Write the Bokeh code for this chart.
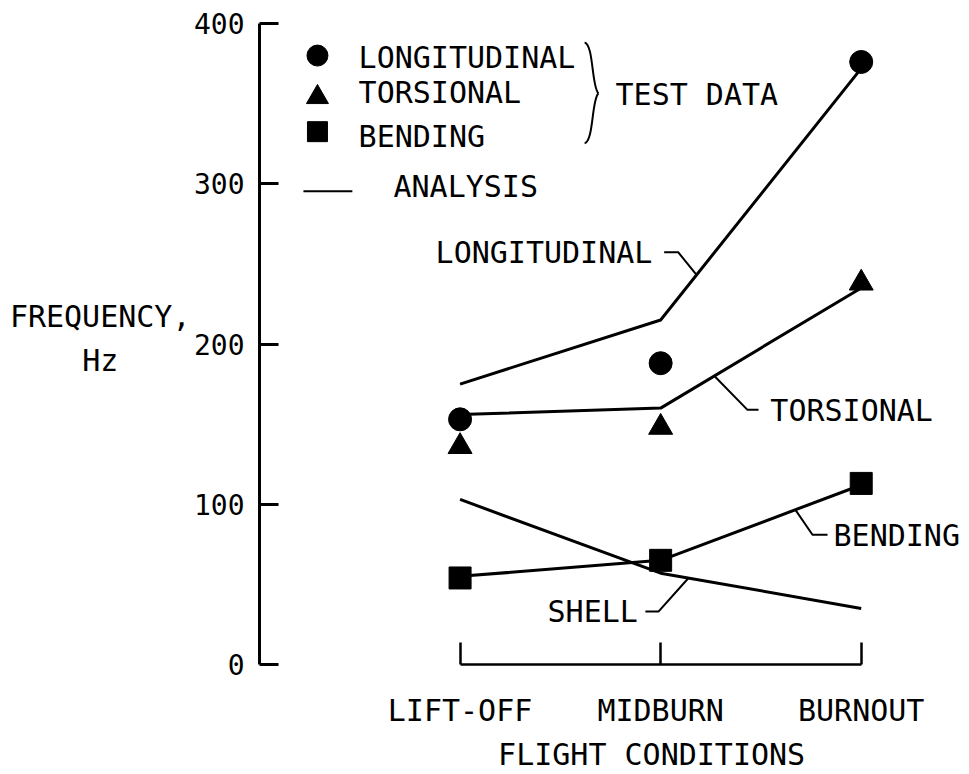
from bokeh.plotting import figure
from bokeh.models import Range1d, FixedTicker, Label, LinearAxis
from bokeh.embed import file_html
from bokeh.resources import INLINE

# ---------------- data ----------------
conditions = ["LIFT-OFF", "MIDBURN", "BURNOUT"]
y_ticks = [0, 100, 200, 300, 400]

test_longitudinal = [153, 188, 376]
test_torsional = [136, 148, 238]
test_bending = [54, 65, 113]

analysis_longitudinal = [175, 215, 372]
analysis_torsional = [156, 160, 235]
analysis_bending = [55, 65, 112]
analysis_shell = [103, 57, 35]

x_title = "FLIGHT CONDITIONS"
y_title = ["FREQUENCY,", "Hz"]

FONT = "DejaVu Sans Mono"
INK = "black"
NB = "\u00a0"
x = list(range(len(conditions)))

p = figure(width=969, height=774,
           x_range=Range1d(-1, 2.5), y_range=Range1d(0, 400),
           output_backend="svg", toolbar_location=None,
           min_border_left=259, min_border_right=8,
           min_border_top=23, min_border_bottom=109)
p.outline_line_color = None
p.grid.visible = False
p.background_fill_color = "white"
p.border_fill_color = "white"

# y axis
ya = p.yaxis[0]
ya.ticker = FixedTicker(ticks=y_ticks)
ya.bounds = (y_ticks[0], y_ticks[-1])
ya.axis_line_width = 3
ya.axis_line_color = INK
ya.major_tick_line_width = 3
ya.major_tick_line_color = INK
ya.major_tick_in = 19
ya.major_tick_out = 0
ya.minor_tick_line_color = None
ya.major_label_text_font = FONT
ya.major_label_text_font_size = "28px"
ya.major_label_text_color = INK
ya.major_label_standoff = 15

# y title as a second (line-less) axis, horizontal text
yt = LinearAxis(ticker=FixedTicker(ticks=[217, 190]),
                major_label_overrides={217: y_title[0], 190: y_title[1] + NB * 4})
yt.axis_line_color = None
yt.major_tick_line_color = None
yt.minor_tick_line_color = None
yt.major_tick_in = 0
yt.major_tick_out = 0
yt.major_label_standoff = 0
yt.major_label_text_font = FONT
yt.major_label_text_font_size = "30px"
yt.major_label_text_color = INK
p.add_layout(yt, "left")

# x axis
xa = p.xaxis[0]
xa.ticker = FixedTicker(ticks=x)
xa.major_label_overrides = {i: c for i, c in zip(x, conditions)}
xa.bounds = (x[0], x[-1])
xa.axis_line_width = 2.5
xa.axis_line_color = INK
xa.major_tick_line_width = 2.5
xa.major_tick_line_color = INK
xa.major_tick_in = 22
xa.major_tick_out = 0
xa.minor_tick_line_color = None
xa.major_label_text_font = FONT
xa.major_label_text_font_size = "30px"
xa.major_label_text_color = INK
xa.major_label_standoff = 28

# x title as a second (line-less) axis
xt = LinearAxis(ticker=FixedTicker(ticks=[1]),
                major_label_overrides={1: x_title + NB})
xt.axis_line_color = None
xt.major_tick_line_color = None
xt.minor_tick_line_color = None
xt.major_tick_in = 0
xt.major_tick_out = 0
xt.major_label_standoff = 6
xt.major_label_text_font = FONT
xt.major_label_text_font_size = "30px"
xt.major_label_text_color = INK
p.add_layout(xt, "below")

# analysis lines
for series in (analysis_longitudinal, analysis_torsional, analysis_bending, analysis_shell):
    p.line(x, series, line_color=INK, line_width=3)

# test data markers
p.scatter(x, test_longitudinal, marker="circle", size=23, color=INK)
p.scatter(x, test_torsional, marker="triangle", size=24, color=INK)
p.scatter(x, test_bending, marker="square", size=22, color=INK)

# ---------------- legend (drawn by hand) ----------------
p.scatter([-0.711], [380], marker="circle", size=21, color=INK)
p.scatter([-0.711], [354], marker="triangle", size=22, color=INK)
p.scatter([-0.711], [332.5], marker="square", size=20, color=INK)
p.line([-0.781, -0.537], [295.3, 295.3], line_color=INK, line_width=2)

# brace
p.bezier(x0=[0.621, 0.690], y0=[388.2, 356.4], x1=[0.690, 0.621], y1=[356.4, 325.2],
         cx0=[0.666, 0.656], cy0=[387.0, 353.0], cx1=[0.656, 0.666], cy1=[359.8, 326.4],
         line_color=INK, line_width=2)

# leader lines
leaders = [
    ([1.0175, 1.0873, 1.18], [257.3, 257.3, 243.0]),
    ([1.268, 1.433, 1.488], [180.0, 158.9, 158.9]),
    ([1.672, 1.757, 1.832], [96.5, 81.0, 81.0]),
    ([0.924, 0.989, 1.139], [33.0, 33.0, 54.0]),
]
for lx, ly in leaders:
    p.line(lx, ly, line_color=INK, line_width=2)

texts = [
    ("LONGITUDINAL", -0.506, 378.9),
    ("TORSIONAL", -0.506, 357.0),
    ("BENDING", -0.506, 329.6),
    ("ANALYSIS", -0.332, 298.5),
    ("TEST DATA", 0.775, 355.8),
    ("LONGITUDINAL", -0.122, 257.4),
    ("TORSIONAL", 1.547, 158.3),
    ("BENDING", 1.862, 80.4),
    ("SHELL", 0.436, 33.1),
]
for t, tx, ty in texts:
    p.add_layout(Label(x=tx, y=ty, text=t, text_font=FONT, text_font_size="30px",
                       text_color=INK, text_align="left", text_baseline="alphabetic"))

open("out.html", "w").write(file_html(p, INLINE))
